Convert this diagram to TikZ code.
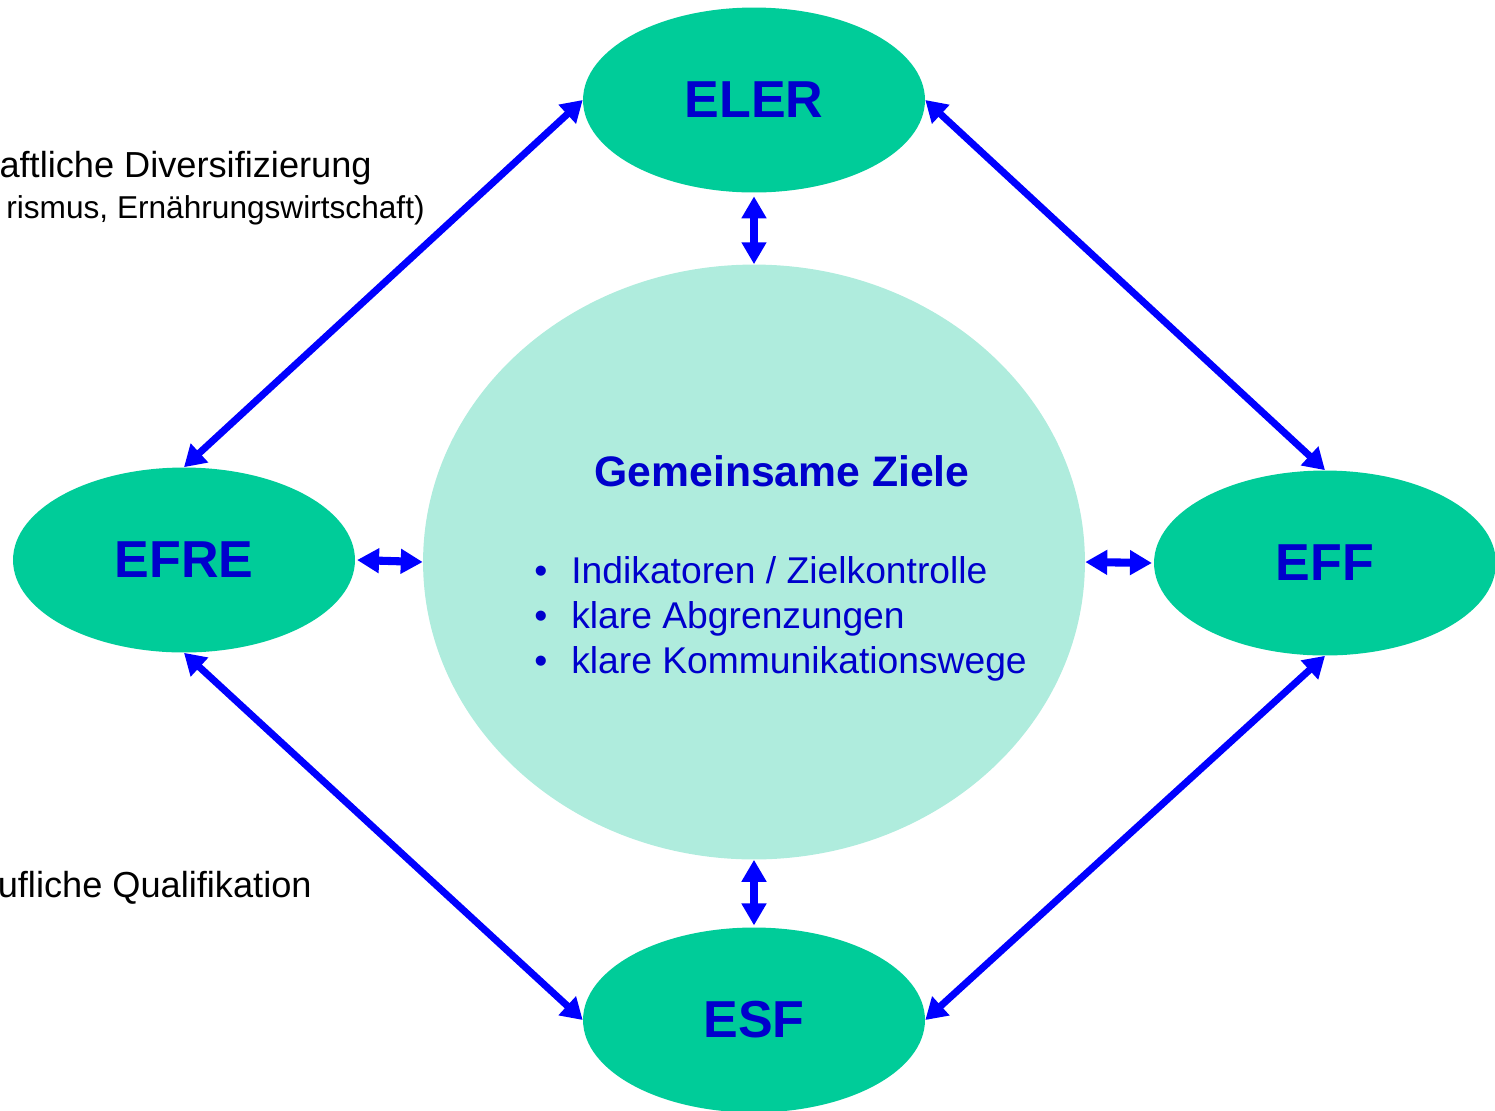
\documentclass[tikz,border=0pt]{standalone}
\usepackage{fontspec}
\setmainfont{Liberation Sans}
\usetikzlibrary{shapes.geometric,arrows.meta}
\definecolor{fund}{RGB}{0,204,153}
\definecolor{goal}{RGB}{175,236,221}
\definecolor{txtblue}{RGB}{0,0,204}
\definecolor{arrblue}{RGB}{0,0,255}
\begin{document}
\begin{tikzpicture}[x=0.02cm,y=-0.02cm,
  fundnode/.style={ellipse, fill=fund, inner sep=0pt, minimum width=6.84cm, minimum height=3.7cm,
    font=\fontsize{29.6}{30}\selectfont\bfseries, text=txtblue},
  goalnode/.style={ellipse, fill=goal, inner sep=0pt, minimum width=13.24cm, minimum height=11.9cm},
  link/.style={arrblue, line width=4pt, {Triangle[length=12pt,width=14pt]}-{Triangle[length=12pt,width=14pt]}},
  shortlink/.style={arrblue, line width=4.6pt, {Triangle[length=12.5pt,width=13.5pt]}-{Triangle[length=12.5pt,width=13.5pt]}},
  itemtxt/.style={anchor=base west, inner sep=0pt, text=txtblue, font=\fontsize{21.2}{22}\selectfont},
  bul/.style={anchor=base, inner sep=0pt, text=txtblue, font=\fontsize{21.2}{22}\selectfont},
  sidetxt/.style={anchor=base east, inner sep=0pt, text=black}
]
\useasboundingbox (0,0) rectangle (1495,1110);

\node[goalnode] (goal) at (754,562) {};
\node[fundnode] (eler) at (754,100) {ELER};
\node[fundnode] (efre) at (184,560) {EFRE};
\node[fundnode] (eff) at (1325,563) {EFF};
\node[fundnode] (esf) at (754,1020) {ESF};

\node[inner sep=0pt, text=txtblue, font=\fontsize{24.3}{25}\selectfont\bfseries] (title) at (782,471) {Gemeinsame Ziele};
\node[bul] (b1) at (541,583) {•};
\node[bul] (b2) at (541,628) {•};
\node[bul] (b3) at (541,673) {•};
\node[itemtxt] (i1) at (571,583) {Indikatoren / Zielkontrolle};
\node[itemtxt] (i2) at (571,628) {klare Abgrenzungen};
\node[itemtxt] (i3) at (571,673) {klare Kommunikationswege};

\node[sidetxt, font=\fontsize{20.6}{21}\selectfont] (s1) at (372,177) {aftliche Diversifizierung};
\node[sidetxt, font=\fontsize{18}{18}\selectfont] (s2) at (425,218) {rismus, Ernährungswirtschaft)};
\node[sidetxt, font=\fontsize{20.6}{21}\selectfont] (s3) at (312,897) {ufliche Qualifikation};

\draw[link] (eler.west) -- (efre.north);
\draw[link] (eler.east) -- (eff.north);
\draw[link] (efre.south) -- (esf.west);
\draw[link] (eff.south) -- (esf.east);

\draw[shortlink] ([yshift=-2pt]eler.south) -- (goal.north);
\draw[shortlink] (goal.south) -- ([yshift=1pt]esf.north);
\draw[shortlink] ([xshift=1pt]efre.east) -- (goal.west);
\draw[shortlink] (goal.east) -- ([xshift=-1pt]eff.west);
\end{tikzpicture}
\end{document}
